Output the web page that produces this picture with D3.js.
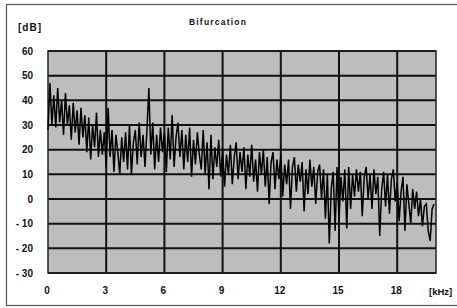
<!DOCTYPE html>
<html>
<head>
<meta charset="utf-8">
<script src="https://cdn.jsdelivr.net/npm/d3@7"></script>
<style>
  body { margin: 0; background: #fff; }
  svg text { font-family: "Liberation Sans Narrow", "Liberation Sans", sans-serif; font-weight: bold; fill: #111; }
</style>
</head>
<body>
<div id="chart"></div>
<script>
// Spectrum level in dB, one value every 0.1 kHz from 0 to 19.9 kHz
const step = 0.1;
const levels = [
  28, 47, 30, 42, 29, 45, 31, 40, 26, 43,
  30, 38, 24, 39, 27, 36, 22, 37, 25, 34,
  19, 33, 16, 30, 21, 35, 17, 28, 18, 27,
  13, 37, 17, 28, 11, 26, 19, 10, 25, 15,
  27, 12, 30, 10, 23, 28, 14, 31, 17, 26,
  13, 28, 45, 18, 31, 12, 26, 15, 29, 19,
  27, 11, 29, 16, 34, 13, 25, 31, 17, 28,
  12, 26, 15, 29, 9, 24, 14, 27, 18, 12,
  28, 10, 23, 4, 26, 8, 21, 13, 24, 9,
  20, 5, 18, 10, 22, 6, 17, 23, 8, 19,
  11, 21, 4, 18, 9, 22, 7, 16, 3, 19,
  10, 20, 5, 17, -2, 15, 19, 4, 16, 8,
  18, 1, 14, 6, 16, -4, 13, 17, 3, 14,
  7, 15, -5, 12, 2, 16, 5, 13, -2, 11,
  14, 0, 12, -8, 10, -18, 4, 11, -13, 13,
  -9, 9, -1, 12, -12, 13, -4, 10, 1, 12,
  3, 11, -7, 9, 13, 0, 10, -4, 12, 2,
  9, -15, 4, 11, -3, 10, -6, 8, 12, -1,
  7, -9, 3, 9, -13, 6, -2, -10, 4, -4,
  3, -7, 0, -11, -3, -2, -13, -17, -4, -2
];
const series = levels.map((v, i) => ({ f: i * step, db: v }));

const xTicks = [0, 3, 6, 9, 12, 15, 18];
const yTicks = [60, 50, 40, 30, 20, 10, 0, -10, -20, -30];
const title = "Bifurcation";
const xUnit = "[kHz]";
const yUnit = "[dB]";

const width = 457;
const height = 308;
const plot = { left: 48, right: 436, top: 51, bottom: 273 };

const svg = d3.select('#chart')
  .append('svg')
  .attr('width', width)
  .attr('height', height);

// outer frame
svg.append('rect')
  .attr('x', 6.5).attr('y', 4.5)
  .attr('width', 452).attr('height', 301)
  .attr('fill', 'none')
  .attr('stroke', '#555')
  .attr('stroke-width', 1.2);

const x = d3.scaleLinear().domain([0, 20]).range([plot.left, plot.right]);
const y = d3.scaleLinear().domain([-30, 60]).range([plot.bottom, plot.top]);

// plot background
svg.append('rect')
  .attr('x', plot.left).attr('y', plot.top)
  .attr('width', plot.right - plot.left)
  .attr('height', plot.bottom - plot.top)
  .attr('fill', '#bdbdbd');

// grid
svg.append('g')
  .selectAll('line')
  .data(yTicks)
  .join('line')
  .attr('x1', plot.left).attr('x2', plot.right)
  .attr('y1', d => y(d)).attr('y2', d => y(d))
  .attr('stroke', '#111')
  .attr('stroke-width', 2);

svg.append('g')
  .selectAll('line')
  .data(xTicks.filter(d => d > 0))
  .join('line')
  .attr('x1', d => x(d)).attr('x2', d => x(d))
  .attr('y1', plot.top).attr('y2', plot.bottom)
  .attr('stroke', '#111')
  .attr('stroke-width', 2);

svg.append('rect')
  .attr('x', plot.left).attr('y', plot.top)
  .attr('width', plot.right - plot.left)
  .attr('height', plot.bottom - plot.top)
  .attr('fill', 'none')
  .attr('stroke', '#222')
  .attr('stroke-width', 1.5);

// trace
const line = d3.line()
  .x(d => x(d.f))
  .y(d => y(d.db));

svg.append('path')
  .datum(series)
  .attr('d', line)
  .attr('fill', 'none')
  .attr('stroke', '#000')
  .attr('stroke-width', 1.5)
  .attr('stroke-linejoin', 'miter');

// tick labels
svg.append('g')
  .selectAll('text')
  .data(yTicks)
  .join('text')
  .attr('x', 33)
  .attr('y', d => y(d) + 3.5)
  .attr('text-anchor', 'end')
  .attr('font-size', 10)
  .text(d => d === 0 ? '0' : (d < 0 ? '- ' + Math.abs(d) : d));

svg.append('g')
  .selectAll('text')
  .data(xTicks)
  .join('text')
  .attr('x', d => x(d) - 1)
  .attr('y', 294)
  .attr('text-anchor', 'middle')
  .attr('font-size', 10)
  .text(d => d);

svg.append('text')
  .attr('x', 429).attr('y', 295)
  .attr('font-size', 9.5)
  .text(xUnit);

svg.append('text')
  .attr('x', 18).attr('y', 31)
  .attr('font-size', 10)
  .attr('letter-spacing', 1)
  .text(yUnit);

svg.append('text')
  .attr('x', 218).attr('y', 25)
  .attr('text-anchor', 'middle')
  .attr('font-size', 8.5)
  .attr('letter-spacing', 1.2)
  .text(title);
</script>
</body>
</html>
